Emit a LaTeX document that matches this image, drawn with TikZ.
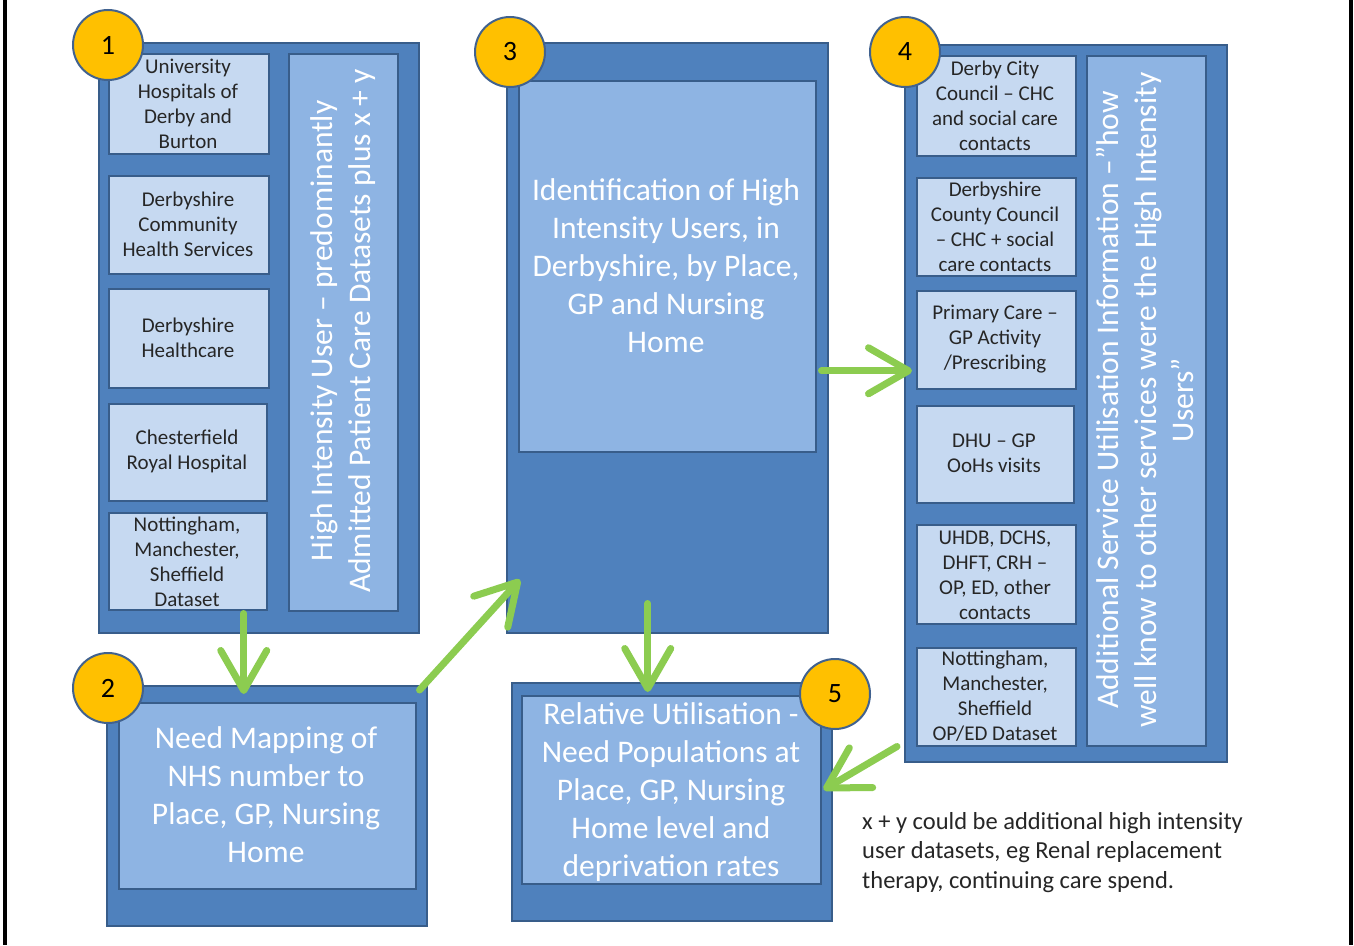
\documentclass[tikz,border=0pt]{standalone}
\usepackage{fontspec}
\setmainfont{Carlito}
\usetikzlibrary{arrows.meta}
\definecolor{outerblue}{RGB}{79,129,189}
\definecolor{edgeblue}{RGB}{56,93,138}
\definecolor{midblue}{RGB}{142,180,227}
\definecolor{lightblue}{RGB}{198,217,241}
\definecolor{gold}{RGB}{255,192,0}
\definecolor{ringblue}{RGB}{65,98,143}
\definecolor{arrowgreen}{RGB}{140,204,80}
\definecolor{darktext}{RGB}{38,38,38}
\begin{document}
\begin{tikzpicture}[x=1pt,y=-1pt,
  outerbox/.style={draw=edgeblue,line width=1.5pt,fill=outerblue,inner sep=0pt,anchor=north west},
  panel/.style={draw=edgeblue,line width=1.5pt,fill=midblue,inner sep=0pt,anchor=north west},
  smallbox/.style={draw=edgeblue,line width=1.5pt,fill=lightblue,inner sep=0pt,anchor=north west},
  smalltext/.style={align=center,text=darktext,font=\fontsize{21}{25}\selectfont},
  bigtext/.style={align=center,text=white,font=\fontsize{31.5}{38}\selectfont},
  vtext/.style={align=center,text=white,rotate=90,font=\fontsize{31.5}{37.5}\selectfont},
  numcircle/.style={circle,fill=gold,draw=ringblue,line width=2pt,minimum size=70pt,inner sep=0pt,font=\fontsize{28}{30}\selectfont},
  garrow/.style={draw=arrowgreen,line width=7pt,line cap=round,-{Straight Barb[length=40pt,width=46pt,round]}}
]
\useasboundingbox (0,0) rectangle (1354,945);
\fill[white] (0,0) rectangle (1354,945);
\draw[line width=4pt] (5,0) -- (5,945);
\draw[line width=4pt] (1351,0) -- (1351,945);

% ---- Box 1
\node[outerbox,minimum width=320pt,minimum height=590pt] (b1) at (98,42) {};
\node[smallbox,minimum width=160pt,minimum height=100pt] (s1a) at (108,53) {};
\node[smallbox,minimum width=160pt,minimum height=98pt] (s1b) at (108,175) {};
\node[smallbox,minimum width=160pt,minimum height=99pt] (s1c) at (108,288) {};
\node[smallbox,minimum width=158pt,minimum height=97pt] (s1d) at (108,403) {};
\node[smallbox,minimum width=158pt,minimum height=97pt] (s1e) at (108,512) {};
\node[panel,minimum width=109pt,minimum height=557pt] (p1) at (288,53) {};
\node[smalltext] (t1a) at (188,103.5) {University\\Hospitals of\\Derby and\\Burton};
\node[smalltext] (t1b) at (188,224) {Derbyshire\\Community\\Health Services};
\node[smalltext] (t1c) at (188,337.5) {Derbyshire\\Healthcare};
\node[smalltext] (t1d) at (187,451.5) {Chesterfield\\Royal Hospital};
\node[smalltext] (t1e) at (187,561.5) {Nottingham,\\Manchester,\\Sheffield\\Dataset};
\node[vtext] (v1) at (343,331) {High Intensity User -- predominantly\\Admitted Patient Care Datasets plus x + y};

% ---- Box 2
\node[outerbox,minimum width=320pt,minimum height=240pt] (b2) at (106,685) {};
\node[panel,minimum width=297pt,minimum height=186pt] (b2in) at (118,702) {};
\node[bigtext] (t2) at (266,795) {Need Mapping of\\NHS number to\\Place, GP, Nursing\\Home};

% ---- Box 3
\node[outerbox,minimum width=321pt,minimum height=590pt] (b3) at (506,42) {};
\node[panel,minimum width=297pt,minimum height=371pt] (b3in) at (518,80) {};
\node[bigtext] (t3) at (666,266) {Identification of High\\Intensity Users, in\\Derbyshire, by Place,\\GP and Nursing\\Home};

% ---- Box 4
\node[outerbox,minimum width=322pt,minimum height=717pt] (b4) at (904,44) {};
\node[smallbox,minimum width=159pt,minimum height=100pt] (s4a) at (916,55) {};
\node[smallbox,minimum width=159pt,minimum height=98pt] (s4b) at (916,177) {};
\node[smallbox,minimum width=159pt,minimum height=98pt] (s4c) at (916,290) {};
\node[smallbox,minimum width=157pt,minimum height=97pt] (s4d) at (916,405) {};
\node[smallbox,minimum width=159pt,minimum height=99pt] (s4e) at (916,524) {};
\node[smallbox,minimum width=159pt,minimum height=98pt] (s4f) at (916,647) {};
\node[panel,minimum width=119pt,minimum height=690pt] (p4) at (1086,55) {};
\node[smalltext] (t4a) at (995,105.5) {Derby City\\Council -- CHC\\and social care\\contacts};
\node[smalltext] (t4b) at (995,226.5) {Derbyshire\\County Council\\-- CHC + social\\care contacts};
\node[smalltext] (t4c) at (995,339) {Primary Care --\\GP Activity\\/Prescribing};
\node[smalltext] (t4d) at (994,453.5) {DHU -- GP\\OoHs visits};
\node[smalltext] (t4e) at (995,575.5) {UHDB, DCHS,\\DHFT, CRH --\\OP, ED, other\\contacts};
\node[smalltext] (t4f) at (995,696.5) {Nottingham,\\Manchester,\\Sheffield\\OP/ED Dataset};
\node[vtext] (v4) at (1145,400) {Additional Service Utilisation Information --”how\\well know to other services were the High Intensity\\Users”};

% ---- Box 5
\node[outerbox,minimum width=320pt,minimum height=238pt] (b5) at (511,682) {};
\node[panel,minimum width=299pt,minimum height=188pt] (b5in) at (521,695) {};
\node[bigtext] (t5) at (671,792) {Relative Utilisation -\\Need Populations at\\Place, GP, Nursing\\Home level and\\deprivation rates};

% ---- Note
\node[anchor=north west,align=left,text=darktext,inner sep=0pt,font=\fontsize{24.5}{29.5}\selectfont] (note) at (862,812) {x + y could be additional high intensity\\user datasets, eg Renal replacement\\therapy, continuing care spend.};

% ---- Number circles
\node[numcircle] (c1) at (108,45) {1};
\node[numcircle] (c2) at (108,688) {2};
\node[numcircle] (c3) at (510,52) {3};
\node[numcircle] (c4) at (905,52) {4};
\node[numcircle] (c5) at (835,694) {5};

% ---- Arrows
\draw[garrow] ([xshift=-15pt,yshift=20pt]b1.south) -- ([xshift=-23pt,yshift=-9pt]b2.north);
\draw[garrow] ([xshift=-8pt,yshift=-5pt]b2.north east) -- ([xshift=14pt,yshift=54pt]b3.south west);
\draw[garrow] ([xshift=-7pt,yshift=-33pt]b3.east) -- ([xshift=-4pt,yshift=-31pt]s4c.west);
\draw[garrow] ([xshift=-19.5pt,yshift=30pt]b3.south) -- ([xshift=-24pt,yshift=-10pt]b5.north);
\draw[garrow] ([xshift=-7pt,yshift=16pt]b4.south west) -- ([xshift=2pt]b5in.east);
\end{tikzpicture}
\end{document}
